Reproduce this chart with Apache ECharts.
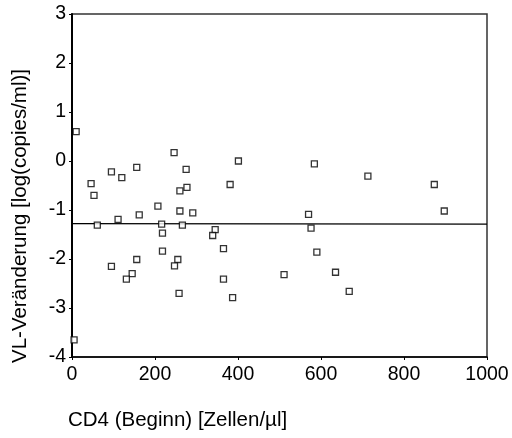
<!DOCTYPE html>
<html>
<head>
<meta charset="utf-8">
<script src="https://cdn.jsdelivr.net/npm/echarts@6/dist/echarts.min.js"></script>
<style>html,body{margin:0;padding:0;background:#fff}#c{width:512px;height:438px}</style>
</head>
<body>
<div id="c"></div>
<script>
// CD4 at baseline (cells/µl)
var cd4 = [10,246,95,156,120,275,46,53,260,277,207,162,111,260,291,61,216,266,218,401,584,381,570,576,345,339,218,156,95,145,131,255,247,258,5,365,590,365,511,635,387,713,873,897,668];
// VL change (log copies/ml)
var vlChange = [0.6,0.17,-0.22,-0.13,-0.34,-0.17,-0.46,-0.70,-0.61,-0.54,-0.92,-1.10,-1.19,-1.02,-1.06,-1.31,-1.29,-1.31,-1.47,0.0,-0.06,-0.48,-1.09,-1.37,-1.40,-1.52,-1.84,-2.01,-2.15,-2.30,-2.41,-2.01,-2.14,-2.70,-3.65,-1.79,-1.86,-2.41,-2.32,-2.27,-2.79,-0.31,-0.48,-1.02,-2.66];
// regression line endpoints
var fitX = [0, 1000];
var fitY = [-1.28, -1.29];
var xTicks = [0, 200, 400, 600, 800, 1000];
var yTicks = [-4, -3, -2, -1, 0, 1, 2, 3];
var xTitle = 'CD4 (Beginn) [Zellen/µl]';
var yTitle = 'VL-Veränderung [log(copies/ml)]';

var pts = cd4.map(function(v, i){ return [v, vlChange[i]]; });
var fit = fitX.map(function(v, i){ return [v, fitY[i]]; });
var font = '"Liberation Sans", Arial, sans-serif';

var chart = echarts.init(document.getElementById('c'), null, {renderer: 'canvas'});
chart.setOption({
  animation: false,
  backgroundColor: '#fff',
  grid: {left: 72, top: 14, right: 25, bottom: 81, show: true, borderColor: '#333', borderWidth: 1.5, backgroundColor: 'transparent'},
  xAxis: {
    type: 'value', min: xTicks[0], max: xTicks[xTicks.length-1], interval: 200,
    axisLine: {show: true, onZero: false, lineStyle: {color: '#000', width: 1.5}},
    axisTick: {show: true, length: 3, lineStyle: {color: '#000'}},
    splitLine: {show: false},
    axisLabel: {color: '#000', fontFamily: font, fontSize: 19.5, margin: 8,
                formatter: function(v){ return String(v); }}
  },
  yAxis: {
    type: 'value', min: yTicks[0], max: yTicks[yTicks.length-1], interval: 1,
    axisLine: {show: true, onZero: false, lineStyle: {color: '#000', width: 2}},
    axisTick: {show: true, length: 3, lineStyle: {color: '#000'}},
    splitLine: {show: false},
    axisLabel: {color: '#000', fontFamily: font, fontSize: 19.5, margin: 6,
                formatter: function(v){ return String(v); }}
  },
  series: [
    {type: 'line', data: fit, symbol: 'none', lineStyle: {color: '#000', width: 1.3}, z: 2},
    {type: 'scatter', data: pts, symbol: 'rect', symbolSize: 6,
     itemStyle: {color: '#fff', borderColor: '#000', borderWidth: 1.3}, z: 3}
  ],
  graphic: [
    {type: 'text', left: 68, top: 410, style: {text: xTitle, fill: '#000', font: '20.5px ' + font}},
    {type: 'text', x: 20, y: 216, rotation: Math.PI/2,
     style: {text: yTitle, fill: '#000', font: '20.5px ' + font, align: 'center', verticalAlign: 'middle'}}
  ]
});
</script>
</body>
</html>
